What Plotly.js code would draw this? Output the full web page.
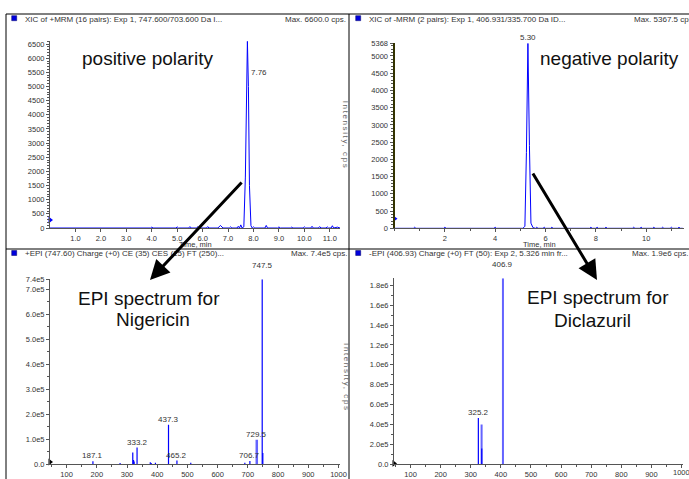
<!DOCTYPE html>
<html>
<head>
<meta charset="utf-8">
<script src="https://cdn.plot.ly/plotly-3.0.1.min.js"></script>
<style>html,body{margin:0;padding:0;background:#fff;}#chart{width:689px;height:479px;}</style>
</head>
<body>
<div id="chart"></div>
<script>
// ---------- DATA ----------
// Top-left XIC (+MRM, Nigericin)
const xicPosTime = [0, 3.95, 4.0, 4.05, 4.95, 5.0, 5.05, 5.45, 5.5, 5.55, 5.75, 5.8, 5.85, 6.15, 6.2, 6.25, 6.6, 6.7, 6.8, 7.05, 7.1, 7.15, 7.35, 7.4, 7.45, 7.5, 7.55, 7.62, 7.68, 7.72, 7.76, 7.80, 7.84, 7.90, 7.95, 8.0, 8.05, 8.45, 8.5, 8.55, 8.95, 9.0, 9.05, 9.45, 9.5, 9.55, 9.95, 10.0, 10.05, 10.25, 10.3, 10.35, 10.55, 10.6, 10.65, 10.85, 10.9, 10.95, 11.05, 11.1, 11.15, 11.3, 11.4];
const xicPosInt  = [0, 0, 30, 0, 0, 40, 0, 0, 50, 0, 0, 40, 0, 0, 50, 0, 0, 90, 0, 0, 40, 0, 0, 60, 0, 110, 0, 40, 1800, 5200, 6600, 5000, 1500, 80, 0, 40, 0, 0, 90, 0, 0, 40, 0, 0, 30, 0, 0, 40, 0, 0, 60, 0, 0, 50, 0, 0, 40, 0, 0, 80, 0, 30, 0];
const xicPosPeakLabel = {t: 7.76, y: 5480, text: "7.76"};

// Top-right XIC (-MRM, Diclazuril)
const xicNegTime = [0, 0.75, 0.8, 0.85, 1.95, 2.0, 2.05, 3.95, 4.0, 4.05, 5.1, 5.18, 5.24, 5.30, 5.36, 5.42, 5.5, 5.6, 5.65, 5.7, 5.9, 5.95, 6.0, 6.2, 6.25, 6.3, 7.75, 7.8, 7.85, 8.0, 8.05, 8.1, 8.35, 8.4, 8.45, 9.45, 9.5, 9.55, 9.75, 9.8, 9.85, 10.25, 10.3, 10.35, 10.6, 10.65, 10.7, 10.95, 11.0, 11.05, 11.25, 11.3, 11.35, 11.45];
const xicNegInt  = [0, 0, 30, 0, 0, 30, 0, 0, 30, 0, 0, 60, 2200, 5368, 2400, 150, 20, 0, 30, 0, 0, 30, 0, 0, 30, 0, 0, 30, 0, 0, 30, 0, 0, 30, 0, 0, 30, 0, 0, 30, 0, 0, 30, 0, 0, 30, 0, 0, 30, 0, 0, 30, 0, 0];
const xicNegPeakLabel = {t: 5.30, y: 5368, text: "5.30"};

// Bottom-left EPI spectrum (Nigericin)
const nigMz     = [187.1, 277, 319, 321.5, 323.5, 333.2, 377, 380, 394, 437.3, 465.2, 511, 690, 706.7, 749.5, 747.5];
const nigInt    = [12000, 5000, 47000, 17000, 11000, 67000, 8000, 5000, 6000, 158000, 15000, 6000, 6000, 13000, 45000, 740000];
const nigMzLight  = [729.5];
const nigIntLight = [98000];
const nigLabelMz  = [187.1, 333.2, 437.3, 465.2, 706.7, 729.5, 747.5];
const nigLabelInt = [12000, 67000, 158000, 15000, 13000, 98000, 740000];

// Bottom-right EPI spectrum (Diclazuril)
const dicMz     = [325.2, 336.5];
const dicInt    = [465000, 160000];
const dicMzLight  = [336, 406.9];
const dicIntLight = [400000, 1870000];
const dicLabelMz  = [325.2, 406.9];
const dicLabelInt = [465000, 1870000];

// Tick labels
const tlTickVals = [1,2,3,4,5,6,7,8,9,10,11];
const tlTickText = ["1.0","2.0","3.0","4.0","5.0","6.0","7.0","8.0","9.0","10.0","11.0"];
const tlYVals = [0,500,1000,1500,2000,2500,3000,3500,4000,4500,5000,5500,6000,6500];
const trTickVals = [2,4,6,8,10];
const trYVals = [0,500,1000,1500,2000,2500,3000,3500,4000,4500,5000,5368];
const mzTickVals = [100,200,300,400,500,600,700,800,900,1000];
const mzTickText = ["100","200","300","400","500","600","700","800","900","1000"];
const blYVals = [0,100000,200000,300000,400000,500000,600000,700000,740000];
const blYText = ["0.0","1.0e5","2.0e5","3.0e5","4.0e5","5.0e5","6.0e5","7.0e5","7.4e5"];
const brYVals = [0,200000,400000,600000,800000,1000000,1200000,1400000,1600000,1800000];
const brYText = ["0.0","2.0e5","4.0e5","6.0e5","8.0e5","1.0e6","1.2e6","1.4e6","1.6e6","1.8e6"];

// axis corner markers
const markTop = {x:[0], y:[280]};
const markBL = {x:[45], y:[9000]};

// ---------- BUILD ----------
const W = 689, H = 479;
const px = v => v / W;
const py = v => 1 - v / H;
const FONT = "Liberation Sans, Arial, sans-serif";
const BLUE = "#0000ff", LIGHT = "#6464ff";

function sticks(xs, ys) {
  const x = [], y = [];
  xs.forEach((v, i) => { x.push(v, v, null); y.push(0, ys[i], null); });
  return {x, y};
}

const traces = [];
traces.push({x: xicPosTime, y: xicPosInt, type: "scatter", mode: "lines", line: {color: BLUE, width: 1}, xaxis: "x", yaxis: "y", hoverinfo: "skip"});
traces.push({x: xicNegTime, y: xicNegInt, type: "scatter", mode: "lines", line: {color: BLUE, width: 1}, xaxis: "x2", yaxis: "y2", hoverinfo: "skip"});
let s = sticks(nigMzLight, nigIntLight);
traces.push({x: s.x, y: s.y, type: "scatter", mode: "lines", line: {color: LIGHT, width: 2.5}, xaxis: "x3", yaxis: "y3", hoverinfo: "skip"});
s = sticks(nigMz, nigInt);
traces.push({x: s.x, y: s.y, type: "scatter", mode: "lines", line: {color: BLUE, width: 1.2}, xaxis: "x3", yaxis: "y3", hoverinfo: "skip"});
s = sticks(dicMzLight, dicIntLight);
traces.push({x: s.x, y: s.y, type: "scatter", mode: "lines", line: {color: LIGHT, width: 2}, xaxis: "x4", yaxis: "y4", hoverinfo: "skip"});
s = sticks(dicMz, dicInt);
traces.push({x: s.x, y: s.y, type: "scatter", mode: "lines", line: {color: BLUE, width: 1.2}, xaxis: "x4", yaxis: "y4", hoverinfo: "skip"});
// corner markers
traces.push({x: markTop.x, y: markTop.y, type: "scatter", mode: "markers", marker: {symbol: "triangle-right", size: 6, color: BLUE}, xaxis: "x", yaxis: "y", cliponaxis: false, hoverinfo: "skip"});
traces.push({x: markTop.x, y: markTop.y, type: "scatter", mode: "markers", marker: {symbol: "triangle-right", size: 6, color: BLUE}, xaxis: "x2", yaxis: "y2", cliponaxis: false, hoverinfo: "skip"});
traces.push({x: markBL.x, y: markBL.y, type: "scatter", mode: "markers", marker: {symbol: "triangle-right", size: 6, color: "#000"}, xaxis: "x3", yaxis: "y3", cliponaxis: false, hoverinfo: "skip"});
traces.push({x: markBL.x, y: markBL.y, type: "scatter", mode: "markers", marker: {symbol: "triangle-right", size: 6, color: "#000"}, xaxis: "x4", yaxis: "y4", cliponaxis: false, hoverinfo: "skip"});

const tickFont = {family: FONT, size: 7.5, color: "#333"};
function axisBase(extra) {
  return Object.assign({
    showline: true, linecolor: "#555", linewidth: 1, ticks: "outside", ticklen: 3, tickcolor: "#555",
    tickfont: tickFont, showgrid: false, zeroline: false, fixedrange: true, tickmode: "array",
    ticklabeloverflow: "allow"
  }, extra);
}

const annotations = [];
function addText(x, y, text, size, opts) {
  annotations.push(Object.assign({xref: "paper", yref: "paper", x: px(x), y: py(y), text: text, showarrow: false,
    font: {family: FONT, size: size, color: "#333"}, xanchor: "center", yanchor: "middle"}, opts || {}));
}
// panel headers
addText(22.7, 19, "XIC of +MRM (16 pairs): Exp 1, 747.600/703.600 Da I...", 8, {xanchor: "left"});
addText(347.5, 19, "Max. 6600.0 cps.", 8, {xanchor: "right"});
addText(366.7, 19, "XIC of -MRM (2 pairs): Exp 1, 406.931/335.700 Da ID...", 8, {xanchor: "left"});
addText(697, 19, "Max. 5367.5 cps.", 8, {xanchor: "right"});
addText(22.7, 253.5, "+EPI (747.60) Charge (+0) CE (35) CES (15) FT (250)...", 8, {xanchor: "left"});
addText(348.7, 253.5, "Max. 7.4e5 cps.", 8, {xanchor: "right"});
addText(366.7, 253.5, "-EPI (406.93) Charge (+0) FT (50): Exp 2, 5.326 min fr...", 8, {xanchor: "left"});
addText(690, 253.5, "Max. 1.9e6 cps.", 8, {xanchor: "right"});
// axis titles
addText(195.7, 244.5, "Time, min", 7.5);
addText(539.8, 244.5, "Time, min", 7.5);
addText(195, 484, "m/z, Da", 8);
addText(538, 484, "m/z, Da", 8);
const intIdxStart = annotations.length;
addText(345, 135, "Intensity, cps", 8, {textangle: 90, font: {family: FONT, size: 8, color: "#666"}});
addText(346.7, 377, "Intensity, cps", 8, {textangle: 90, font: {family: FONT, size: 8, color: "#666"}});
// last m/z tick label of the right spectrum (sits on the page edge, as in the reference)
annotations.push({xref: "x4", yref: "paper", x: mzTickVals[mzTickVals.length - 1], y: py(472.5), text: mzTickText[mzTickText.length - 1],
  showarrow: false, xanchor: "center", yanchor: "middle", font: tickFont});
// big labels
const bigFont = {family: FONT, size: 19, color: "#111"};
addText(147.5, 58, "positive polarity", 19, {font: bigFont});
addText(609.5, 58, "negative polarity", 19, {font: bigFont});
addText(149, 298, "EPI spectrum for", 19, {font: bigFont});
addText(153, 319, "Nigericin", 19, {font: bigFont});
addText(597.5, 297, "EPI spectrum for", 19, {font: bigFont});
addText(592, 320, "Diclazuril", 19, {font: bigFont});
// arrows
function addArrow(tailX, tailY, tipX, tipY) {
  annotations.push({xref: "paper", yref: "paper", x: px(tipX), y: py(tipY), ax: tailX - tipX, ay: tailY - tipY,
    text: "", showarrow: true, arrowhead: 2, arrowsize: 1.3, arrowwidth: 3, arrowcolor: "#000"});
}
addArrow(243, 181, 150, 280);
addArrow(532, 172, 597, 280);
// peak labels
const pkFont = {family: FONT, size: 8, color: "#333"};
annotations.push({xref: "x", yref: "y", x: xicPosPeakLabel.t, y: xicPosPeakLabel.y, text: xicPosPeakLabel.text, showarrow: false, xanchor: "left", yanchor: "middle", xshift: 2, font: pkFont});
annotations.push({xref: "x2", yref: "y2", x: xicNegPeakLabel.t, y: xicNegPeakLabel.y, text: xicNegPeakLabel.text, showarrow: false, xanchor: "center", yanchor: "bottom", yshift: -1, font: pkFont});
nigLabelMz.forEach((m, i) => {
  annotations.push({xref: "x3", yref: "y3", x: m, y: nigLabelInt[i], text: m.toFixed(1), showarrow: false, xanchor: "center", yanchor: "bottom",
    yshift: nigLabelInt[i] > 700000 ? 7 : -1, font: pkFont});
});
dicLabelMz.forEach((m, i) => {
  annotations.push({xref: "x4", yref: "y4", x: m, y: dicLabelInt[i], text: m.toFixed(1), showarrow: false, xanchor: "center", yanchor: "bottom",
    yshift: dicLabelInt[i] > 1500000 ? 7 : -1, font: pkFont});
});

// frame shapes
const shapes = [];
function line(x0, y0, x1, y1, w) {
  shapes.push({type: "line", xref: "paper", yref: "paper", x0: px(x0), y0: py(y0), x1: px(x1), y1: py(y1), line: {color: "#000", width: w || 1}});
}
line(6, 14, 689, 14);
line(6, 14, 6, 479);
line(349, 14, 349, 479);
line(6, 249, 689, 249);
function square(x, y) {
  shapes.push({type: "rect", xref: "paper", yref: "paper", x0: px(x), x1: px(x + 5), y0: py(y + 5), y1: py(y), fillcolor: "#0000dd", line: {color: "#000066", width: 0.5}});
}
square(11.7, 15.7); square(355.7, 15.7); square(11.7, 250.5); square(355.7, 250.5);

const mzTickTextRight = mzTickText.slice(0, -1).concat([""]);

const layout = {
  width: W, height: H, margin: {l: 0, r: 0, t: 0, b: 0}, paper_bgcolor: "#fff", plot_bgcolor: "rgba(0,0,0,0)",
  showlegend: false, font: {family: FONT},
  xaxis: axisBase({domain: [px(50), px(340)], range: [0, 11.4], anchor: "y", tickvals: tlTickVals, ticktext: tlTickText}),
  yaxis: axisBase({domain: [py(228), py(41.2)], range: [0, 6600], anchor: "x", tickvals: tlYVals,
    minor: {tickmode: "linear", dtick: 100, ticks: "outside", ticklen: 2, tickcolor: "#555"}}),
  xaxis2: axisBase({domain: [px(394.5), px(684)], range: [0, 11.5], anchor: "y2", tickvals: trTickVals,
    minor: {tickmode: "linear", tick0: 1, dtick: 1, ticks: "outside", ticklen: 2, tickcolor: "#555"}}),
  yaxis2: axisBase({domain: [py(228.3), py(43.3)], range: [0, 5368], anchor: "x2", tickvals: trYVals, linecolor: "#333300", linewidth: 2,
    minor: {tickmode: "linear", dtick: 100, ticks: "outside", ticklen: 2, tickcolor: "#555"}}),
  xaxis3: axisBase({domain: [px(50), px(340)], range: [45, 1005], anchor: "y3", tickvals: mzTickVals, ticktext: mzTickText,
    minor: {tickmode: "linear", tick0: 50, dtick: 100, ticks: "outside", ticklen: 2, tickcolor: "#555"}}),
  yaxis3: axisBase({domain: [py(464.3), py(279.3)], range: [0, 740000], anchor: "x3", tickvals: blYVals, ticktext: blYText,
    minor: {tickmode: "linear", tick0: 50000, dtick: 100000, ticks: "outside", ticklen: 2, tickcolor: "#555"}}),
  xaxis4: axisBase({domain: [px(394), px(683)], range: [45, 1005], anchor: "y4", tickvals: mzTickVals, ticktext: mzTickTextRight,
    minor: {tickmode: "linear", tick0: 50, dtick: 100, ticks: "outside", ticklen: 2, tickcolor: "#555"}}),
  yaxis4: axisBase({domain: [py(464.3), py(278.3)], range: [0, 1870000], anchor: "x4", tickvals: brYVals, ticktext: brYText,
    minor: {tickmode: "linear", tick0: 100000, dtick: 200000, ticks: "outside", ticklen: 2, tickcolor: "#555"}}),
  annotations: annotations,
  shapes: shapes
};

Plotly.newPlot("chart", traces, layout, {staticPlot: true, displayModeBar: false}).then(function (gd) {
  // spread the letters of the vertical "Intensity, cps" labels as in the reference
  [intIdxStart, intIdxStart + 1].forEach(function (k) {
    const t = gd.querySelector('g.annotation[data-index="' + k + '"] text');
    if (t) t.style.letterSpacing = "1.6px";
  });
});
</script>
</body>
</html>
